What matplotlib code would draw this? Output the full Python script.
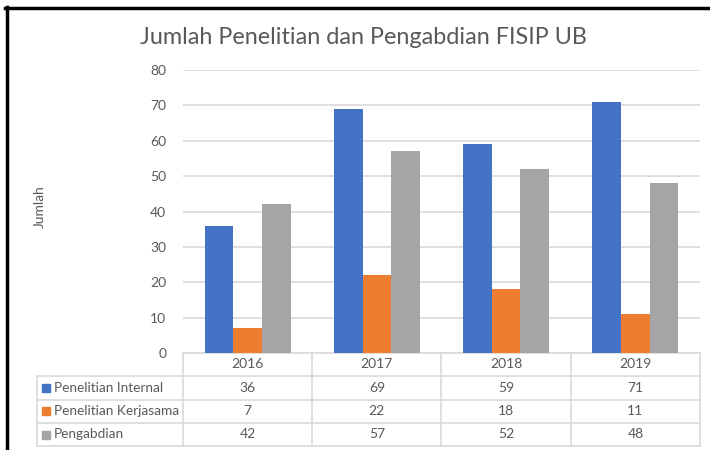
import matplotlib.pyplot as plt
from matplotlib.lines import Line2D
from matplotlib.patches import Rectangle
import numpy as np

years = ['2016', '2017', '2018', '2019']
series = ['Penelitian Internal', 'Penelitian Kerjasama', 'Pengabdian']
internal = [36, 69, 59, 71]
kerjasama = [7, 22, 18, 11]
pengabdian = [42, 57, 52, 48]
values = [internal, kerjasama, pengabdian]
colors = ['#4472C4', '#ED7D31', '#A5A5A5']

plt.rcParams['font.family'] = ['Lato', 'DejaVu Sans']
txt = '#595959'
grid = '#d9d9d9'

W, H = 710, 450
fig = plt.figure(figsize=(W / 100, H / 100), dpi=100)

# plot area in pixels
left, right, top, bottom = 183, 700, 70, 353
ax = fig.add_axes([left / W, 1 - bottom / H, (right - left) / W, (bottom - top) / H])

x = np.arange(len(years))
bw = 0.222
for i, vals in enumerate(values):
    ax.bar(x + (i - 1) * bw, vals, width=bw, color=colors[i], zorder=3)

ax.set_xlim(-0.5, len(years) - 0.5)
ax.set_ylim(0, 80)
ax.set_yticks(range(0, 81, 10))
ax.yaxis.grid(True, color=grid, linewidth=1.2, zorder=0)
ax.set_xticks([])
for s in ['top', 'right', 'left']:
    ax.spines[s].set_visible(False)
ax.spines['bottom'].set_color(grid)
ax.spines['bottom'].set_linewidth(1.2)
ax.tick_params(axis='y', length=0, pad=12, labelsize=10, labelcolor=txt)

fig.text(363 / W, 1 - 38 / H, 'Jumlah Penelitian dan Pengabdian FISIP UB',
         ha='center', va='center', fontsize=16.8, color=txt)
fig.text(40 / W, 1 - 207 / H, 'Jumlah', rotation=90, ha='center', va='center',
         fontsize=10, color=txt)

# data table below the axis
def fx(px):
    return px / W


def fy(py):
    return 1 - py / H


tleft = 37
col_w = (right - left) / len(years)
rows = [353, 376, 399.5, 423, 446]


def hline(x0, x1, y):
    fig.add_artist(Line2D([fx(x0), fx(x1)], [fy(y), fy(y)], color=grid, lw=1.2))


def vline(xp, y0, y1):
    fig.add_artist(Line2D([fx(xp), fx(xp)], [fy(y0), fy(y1)], color=grid, lw=1.2))


for r in rows[1:]:
    hline(tleft, right, r)
vline(tleft, rows[1], rows[-1])
for j in range(len(years) + 1):
    vline(left + j * col_w, rows[0], rows[-1])

for j, yr in enumerate(years):
    cx = left + (j + 0.5) * col_w
    fig.text(fx(cx), fy((rows[0] + rows[1]) / 2), yr, ha='center', va='center',
             fontsize=10, color=txt)
    for i, vals in enumerate(values):
        cy = (rows[i + 1] + rows[i + 2]) / 2
        fig.text(fx(cx), fy(cy), str(vals[j]), ha='center', va='center',
                 fontsize=10, color=txt)

for i, name in enumerate(series):
    cy = (rows[i + 1] + rows[i + 2]) / 2
    fig.add_artist(Rectangle((fx(42), fy(cy + 4)), 8 / W, 8 / H,
                             color=colors[i], transform=fig.transFigure))
    fig.text(fx(54), fy(cy), name, ha='left', va='center', fontsize=9.8, color=txt)

# black frame of the screenshot on top and left
fig.add_artist(Line2D([fx(5), fx(710)], [fy(8), fy(8)], color='black', lw=2.5))
fig.add_artist(Line2D([fx(6.5), fx(6.5)], [fy(7), fy(450)], color='black', lw=2.5))

fig.savefig('out.png', dpi=100)
